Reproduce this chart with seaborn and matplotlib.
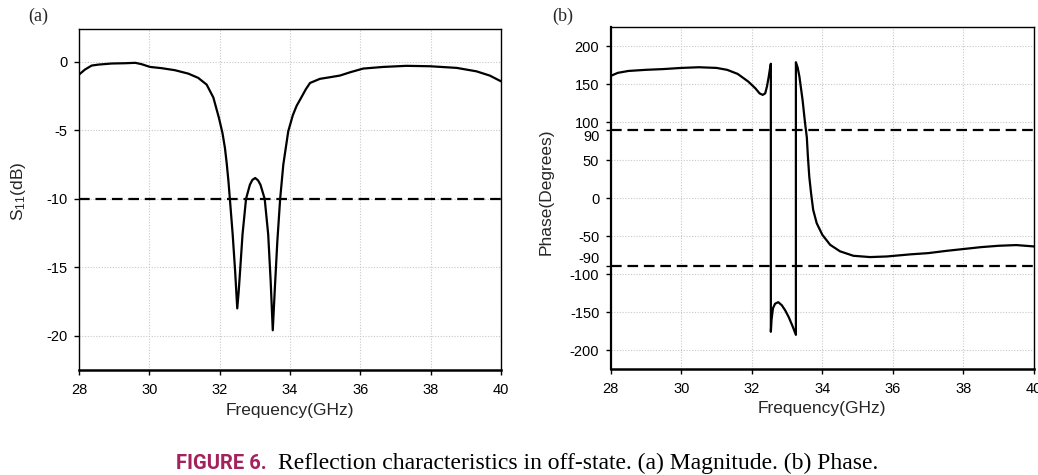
import matplotlib
matplotlib.use("Agg")
import matplotlib.pyplot as plt
from matplotlib.transforms import ScaledTranslation
import pandas as pd
import seaborn as sns

# ---- S11 magnitude (dB) versus frequency (GHz) ----
freq_mag = [28.0, 28.17, 28.36, 28.55, 28.93, 29.31, 29.6, 29.78, 30.02, 30.35,
            30.73, 31.11, 31.39, 31.63, 31.82, 31.98, 32.08, 32.15, 32.2, 32.25,
            32.29, 32.33, 32.37, 32.44, 32.5, 32.54, 32.58, 32.65, 32.75, 32.86,
            32.93, 33.01, 33.09, 33.16, 33.28, 33.38, 33.45, 33.51, 33.57, 33.64,
            33.72, 33.81, 33.95, 34.08, 34.19, 34.3, 34.45, 34.57, 34.85, 35.14,
            35.42, 35.71, 36.08, 36.65, 37.31, 37.98, 38.74, 39.3, 39.68, 40.0]
s11_db = [-0.93, -0.56, -0.27, -0.2, -0.12, -0.1, -0.07, -0.17, -0.37, -0.46,
          -0.61, -0.86, -1.17, -1.66, -2.6, -4.1, -5.2, -6.29, -7.4, -8.73,
          -10.0, -11.3, -12.6, -15.3, -18.0, -16.8, -15.3, -12.6, -10.0, -8.97,
          -8.62, -8.48, -8.65, -8.97, -10.0, -12.6, -16.0, -19.6, -16.5, -13.1,
          -10.0, -7.5, -5.07, -3.9, -3.2, -2.7, -2.0, -1.54, -1.24, -1.12,
          -1.0, -0.76, -0.49, -0.37, -0.29, -0.32, -0.44, -0.69, -1.0, -1.42]

# ---- S11 phase (degrees) versus frequency (GHz) ----
freq_phase = [28.0, 28.2, 28.5, 29.0, 29.5, 30.0, 30.5, 31.0, 31.3, 31.6,
              31.9, 32.1, 32.22, 32.31, 32.38, 32.43, 32.48, 32.52, 32.54, 32.54,
              32.56, 32.6, 32.66, 32.75, 32.85, 32.95, 33.05, 33.15, 33.25, 33.25,
              33.3, 33.35, 33.44, 33.51, 33.56, 33.59, 33.63, 33.68, 33.74, 33.84,
              34.0, 34.22, 34.5, 34.88, 35.35, 35.83, 36.5, 37.0, 37.5, 38.0,
              38.5, 39.0, 39.5, 40.0]
phase_deg = [161, 165, 167.5, 169, 170, 171.5, 172.4, 171.5, 169, 163.6,
             153.5, 144.7, 138, 136, 138, 147, 160, 172, 177, -176,
             -160, -145, -139, -137, -141, -148, -157, -168, -180, 179,
             172, 160, 129, 98.7, 80, 55, 28, 6.6, -15.4, -33,
             -48.3, -61.4, -70, -75.9, -77.6, -76.8, -74, -72.4, -69.5, -67,
             -64.5, -62.7, -61.8, -63.6]

freq_ticks = [28, 30, 32, 34, 36, 38, 40]
mag_ticks = [0, -5, -10, -15, -20]
phase_ticks = [200, 150, 100, 90, 50, 0, -50, -90, -100, -150, -200]
mag_threshold = -10
phase_bounds = [90, -90]

mag_df = pd.DataFrame({"Frequency": freq_mag, "S11": s11_db})
phase_df = pd.DataFrame({"Frequency": freq_phase, "Phase": phase_deg})

sns.set_theme(style="white")
plt.rcParams["font.family"] = ["Liberation Sans", "DejaVu Sans"]
plt.rcParams["mathtext.fontset"] = "custom"
plt.rcParams["mathtext.rm"] = "Liberation Sans"
plt.rcParams["mathtext.it"] = "Liberation Sans"

W, H = 1038, 475
fig = plt.figure(figsize=(W / 100, H / 100), dpi=100)
fig.patch.set_facecolor("white")


def px_axes(left, top, right, bottom):
    return fig.add_axes([left / W, 1 - bottom / H, (right - left) / W, (bottom - top) / H])


ax1 = px_axes(79, 29, 501, 370)
ax2 = px_axes(610.7, 27.3, 1034, 369)

dash = (0, (4.8, 2.6))
grid_style = dict(color="#c8c8c8", linestyle=(0, (1, 1.5)), linewidth=0.8)
line_kw = dict(color="black", linewidth=1.6)

sns.lineplot(data=mag_df, x="Frequency", y="S11", ax=ax1, sort=False,
             estimator=None, **line_kw)
ax1.axhline(mag_threshold, linestyle=dash, **line_kw)

sns.lineplot(data=phase_df, x="Frequency", y="Phase", ax=ax2, sort=False,
             estimator=None, **line_kw)
for b in phase_bounds:
    ax2.axhline(b, linestyle=dash, **line_kw)

for ax in (ax1, ax2):
    ax.set_xlim(28, 40)
    ax.set_xticks(freq_ticks)
    ax.set_xticklabels([str(t) for t in freq_ticks])
    ax.grid(True, **grid_style)
    ax.set_axisbelow(True)
    ax.tick_params(axis="both", direction="out", length=3.6, width=1.0,
                   labelsize=10.5, colors="black", left=True, bottom=True)
    ax.tick_params(axis="y", pad=4.6)
    ax.tick_params(axis="x", pad=5.5)
    for s in ax.spines.values():
        s.set_color("black")
        s.set_linewidth(1.0)
    ax.spines["bottom"].set_linewidth(1.8)
    ax.set_xlabel("Frequency(GHz)", fontsize=12.5)

ax2.spines["left"].set_linewidth(1.6)

ax1.set_ylim(-22.5, 2.4)
ax1.set_yticks(mag_ticks)
ax1.set_yticklabels([str(t) for t in mag_ticks])
ax1.set_ylabel(r"S$_{\mathregular{11}}$(dB)", fontsize=12.5)
ax1.yaxis.set_label_coords(-0.121, 0.525)
ax1.xaxis.set_label_coords(0.5, -0.098)

ax2.set_ylim(-225, 225)
ax2.set_yticks(phase_ticks)
ax2.set_yticklabels([str(t) for t in phase_ticks])
ax2.set_ylabel("Phase(Degrees)", fontsize=12.5)
ax2.yaxis.set_label_coords(-0.136, 0.52)
ax2.xaxis.set_label_coords(0.5, -0.094)

# keep the ±90 labels clear of their neighbours
for lab, tick in zip(ax2.get_yticklabels(), phase_ticks):
    if tick == 90:
        lab.set_transform(lab.get_transform() + ScaledTranslation(0, -4.3 / 72, fig.dpi_scale_trans))
    elif tick == -90:
        lab.set_transform(lab.get_transform() + ScaledTranslation(0, 6.5 / 72, fig.dpi_scale_trans))

# phase grid only at the regular 50-degree steps
ax2.yaxis.grid(False)
for t in phase_ticks:
    if t not in phase_bounds:
        ax2.axhline(t, zorder=0, **grid_style)

serif = ["Liberation Serif", "DejaVu Serif"]
fig.text(28 / W, 1 - 16 / H, "(a)", family=serif, fontsize=13, va="center", ha="left")
fig.text(552 / W, 1 - 16 / H, "(b)", family=serif, fontsize=13, va="center", ha="left")

fig.text(176 / W, 1 - 469 / H, "FIGURE 6.", family=["Roboto", "DejaVu Sans"],
         fontweight="bold", fontsize=14.5, color="#A3215C", va="baseline", ha="left")
fig.text(278 / W, 1 - 469 / H,
         "Reflection characteristics in off-state. (a) Magnitude. (b) Phase.",
         family=serif, fontsize=17, color="black", va="baseline", ha="left")

fig.savefig("out.png", dpi=100)
